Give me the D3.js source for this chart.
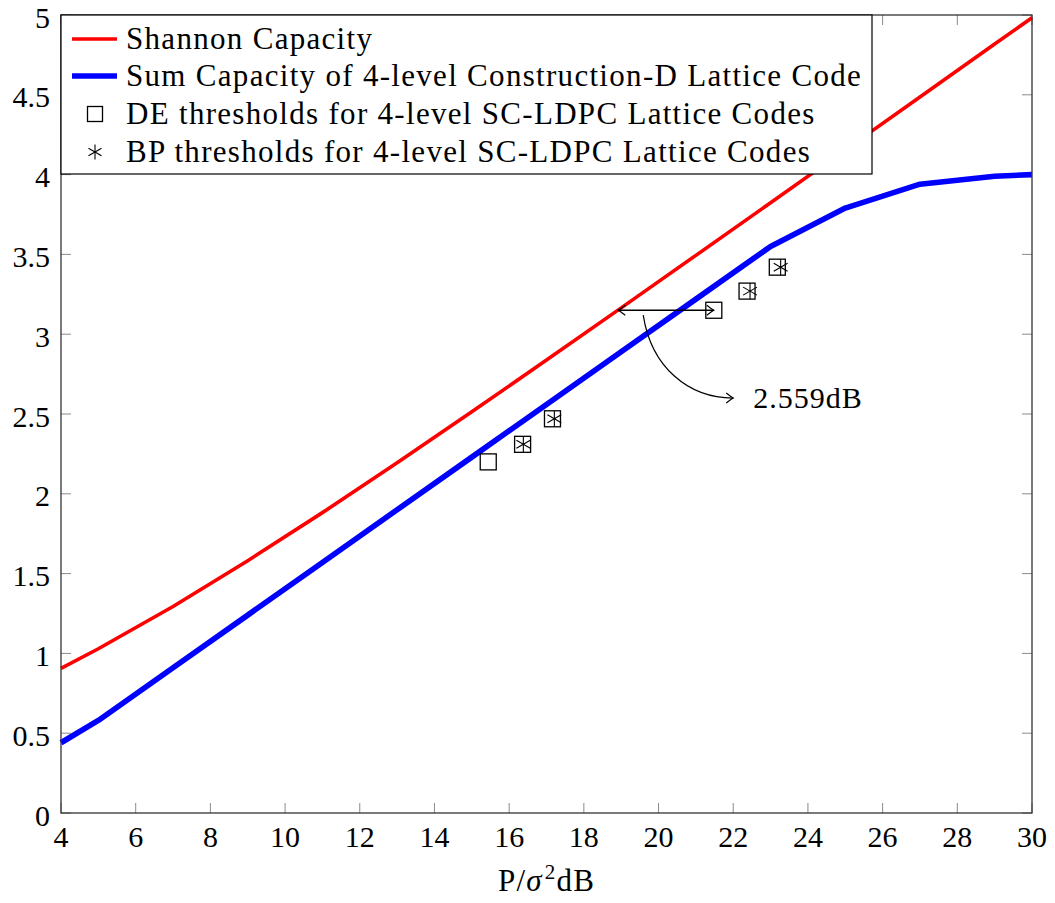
<!DOCTYPE html>
<html>
<head>
<meta charset="utf-8">
<script src="https://cdn.jsdelivr.net/npm/d3@7"></script>
<style>
  body { margin: 0; background: #fff; }
  text { font-family: "Liberation Serif", "Times New Roman", serif; fill: #000; }
</style>
</head>
<body>
<svg id="chart" width="1055" height="903"></svg>
<script>
// Shannon capacity (bits per dimension) vs. SNR in dB
const shannonSnr = [4, 5, 7, 9, 11, 13, 15, 17, 19, 21, 23, 25, 27, 29, 30];
const shannonRate = [0.906, 1.029, 1.294, 1.581, 1.882, 2.194, 2.514, 2.838, 3.165, 3.494, 3.824, 4.155, 4.486, 4.818, 4.983];

// Sum capacity of the 4-level Construction-D lattice code
const sumSnr = [4, 5, 7, 9, 11, 13, 15, 17, 19, 21, 23, 25, 27, 29, 30];
const sumRate = [0.44, 0.58, 0.91, 1.24, 1.57, 1.90, 2.23, 2.56, 2.89, 3.22, 3.55, 3.79, 3.94, 3.99, 4.00];

// Density-evolution thresholds (squares)
const deSnr = [15.44, 16.36, 17.16, 21.48, 22.37, 23.18];
const deRate = [2.20, 2.31, 2.47, 3.15, 3.27, 3.42];

// Belief-propagation thresholds (asterisks)
const bpSnr = [16.38, 17.21, 22.45, 23.27];
const bpRate = [2.31, 2.47, 3.27, 3.42];

// Axis ticks
const xTicks = [4, 6, 8, 10, 12, 14, 16, 18, 20, 22, 24, 26, 28, 30];
const yTicks = [0, 0.5, 1, 1.5, 2, 2.5, 3, 3.5, 4, 4.5, 5];
const yTickLabels = ["0", "0.5", "1", "1.5", "2", "2.5", "3", "3.5", "4", "4.5", "5"];

// Gap annotation between the DE threshold and Shannon capacity
const gapDb = 2.559;
const gapLabel = "2.559dB";

const legendLabels = [
  "Shannon Capacity",
  "Sum Capacity of 4-level Construction-D Lattice Code",
  "DE thresholds for 4-level SC-LDPC Lattice Codes",
  "BP thresholds for 4-level SC-LDPC Lattice Codes"
];

const svg = d3.select("#chart");
const plotLeft = 61, plotRight = 1032, plotTop = 15, plotBottom = 813;

const x = d3.scaleLinear().domain([4, 30]).range([plotLeft, plotRight]);
const y = d3.scaleLinear().domain([0, 5]).range([plotBottom, plotTop]);

// arrowhead (open chevron)
const defs = svg.append("defs");
defs.append("marker")
  .attr("id", "chev")
  .attr("viewBox", "-10 -6 12 12")
  .attr("refX", 0).attr("refY", 0)
  .attr("markerWidth", 12).attr("markerHeight", 12)
  .attr("markerUnits", "userSpaceOnUse")
  .attr("orient", "auto-start-reverse")
  .append("path")
  .attr("d", "M-7,-5 Q-2,-1 0,0 Q-2,1 -7,5")
  .attr("fill", "none").attr("stroke", "#000").attr("stroke-width", 1.2);

// ticks (inside, on all four sides)
const tickLen = 10;
const tg = svg.append("g").attr("stroke", "#8a8a8a").attr("stroke-width", 1);
xTicks.forEach(t => {
  tg.append("line").attr("x1", x(t)).attr("x2", x(t)).attr("y1", plotBottom).attr("y2", plotBottom - tickLen);
  tg.append("line").attr("x1", x(t)).attr("x2", x(t)).attr("y1", plotTop).attr("y2", plotTop + tickLen);
});
yTicks.forEach(t => {
  tg.append("line").attr("x1", plotLeft).attr("x2", plotLeft + tickLen).attr("y1", y(t)).attr("y2", y(t));
  tg.append("line").attr("x1", plotRight).attr("x2", plotRight - tickLen).attr("y1", y(t)).attr("y2", y(t));
});

// tick labels
svg.append("g").selectAll("text").data(xTicks).join("text")
  .attr("x", d => x(d)).attr("y", plotBottom + 34)
  .attr("text-anchor", "middle").attr("font-size", 30)
  .text(d => d);
svg.append("g").selectAll("text").data(yTicks).join("text")
  .attr("x", plotLeft - 11).attr("y", d => y(d) + 12.5)
  .attr("text-anchor", "end").attr("font-size", 30)
  .text((d, i) => yTickLabels[i]);

// x-axis title: P/σ²dB
const xt = svg.append("text").attr("x", (plotLeft + plotRight) / 2).attr("y", 891)
  .attr("text-anchor", "middle").attr("font-size", 31).attr("letter-spacing", 1.2);
xt.append("tspan").text("P/");
xt.append("tspan").attr("font-style", "italic").text("σ");
xt.append("tspan").attr("font-size", 21).attr("dy", -12).attr("dx", 2).text("2");
xt.append("tspan").attr("dy", 12).text("dB");

// curves
const line = d3.line().x(d => x(d[0])).y(d => y(d[1]));
svg.append("path").datum(shannonSnr.map((s, i) => [s, shannonRate[i]]))
  .attr("d", line).attr("fill", "none").attr("stroke", "#ff0000")
  .attr("stroke-width", 3.6).attr("stroke-linejoin", "round");
svg.append("path").datum(sumSnr.map((s, i) => [s, sumRate[i]]))
  .attr("d", line).attr("fill", "none").attr("stroke", "#0000ff")
  .attr("stroke-width", 5.6).attr("stroke-linejoin", "round");

// marker shapes
const sq = 16;
function drawSquare(g, cx, cy, size) {
  g.append("rect").attr("x", cx - size / 2).attr("y", cy - size / 2)
    .attr("width", size).attr("height", size)
    .attr("fill", "none").attr("stroke", "#000").attr("stroke-width", 1.3);
}
function drawAsterisk(g, cx, cy, r) {
  [90, 30, 150].forEach(a => {
    const rad = a * Math.PI / 180;
    const dx = r * Math.cos(rad), dy = r * Math.sin(rad);
    g.append("line").attr("x1", cx - dx).attr("y1", cy + dy)
      .attr("x2", cx + dx).attr("y2", cy - dy)
      .attr("stroke", "#000").attr("stroke-width", 1.1);
  });
}

const mg = svg.append("g");
deSnr.forEach((s, i) => drawSquare(mg, x(s), y(deRate[i]), sq));
bpSnr.forEach((s, i) => drawAsterisk(mg, x(bpSnr[i]), y(bpRate[i]), 8));

// gap arrow: from the Shannon curve to the DE threshold at the same rate
const gapRate = deRate[3];
const gapRight = deSnr[3];
const gapLeft = gapRight - gapDb;
svg.append("line")
  .attr("x1", x(gapLeft)).attr("y1", y(gapRate))
  .attr("x2", x(gapRight)).attr("y2", y(gapRate))
  .attr("stroke", "#000").attr("stroke-width", 1.3)
  .attr("marker-start", "url(#chev)").attr("marker-end", "url(#chev)");

// curved pointer to the gap label
const cStart = [19.59, 3.12], cEnd = [22.0, 2.60];
const p0 = [x(cStart[0]), y(cStart[1])], p3 = [x(cEnd[0]), y(cEnd[1])];
const cp = d3.path();
cp.moveTo(p0[0], p0[1]);
cp.bezierCurveTo(p0[0] + 8, p0[1] + 52, p3[0] - 45, p3[1], p3[0], p3[1]);
svg.append("path").attr("d", cp.toString())
  .attr("fill", "none").attr("stroke", "#000").attr("stroke-width", 1.2)
  .attr("marker-end", "url(#chev)");
svg.append("text").attr("x", p3[0] + 20).attr("y", p3[1] + 10)
  .attr("font-size", 30).attr("letter-spacing", 1).text(gapLabel);

// axis frame
svg.append("rect").attr("x", plotLeft).attr("y", plotTop)
  .attr("width", plotRight - plotLeft).attr("height", plotBottom - plotTop)
  .attr("fill", "none").attr("stroke", "#333").attr("stroke-width", 1.3);

// legend
const lg = svg.append("g");
lg.append("rect").attr("x", plotLeft).attr("y", plotTop).attr("width", 811).attr("height", 159)
  .attr("fill", "#fff").attr("stroke", "#000").attr("stroke-width", 1.2);
const rowY = [39, 76, 114, 152];
lg.append("line").attr("x1", 72).attr("x2", 117).attr("y1", rowY[0]).attr("y2", rowY[0])
  .attr("stroke", "#ff0000").attr("stroke-width", 3.6);
lg.append("line").attr("x1", 72).attr("x2", 117).attr("y1", rowY[1]).attr("y2", rowY[1])
  .attr("stroke", "#0000ff").attr("stroke-width", 5.6);
drawSquare(lg, 95, rowY[2], 15);
drawAsterisk(lg, 95, rowY[3], 7.5);
legendLabels.forEach((t, i) => {
  lg.append("text").attr("x", 126).attr("y", rowY[i] + 10)
    .attr("font-size", 31).attr("letter-spacing", 1.3).text(t);
});
</script>
</body>
</html>
